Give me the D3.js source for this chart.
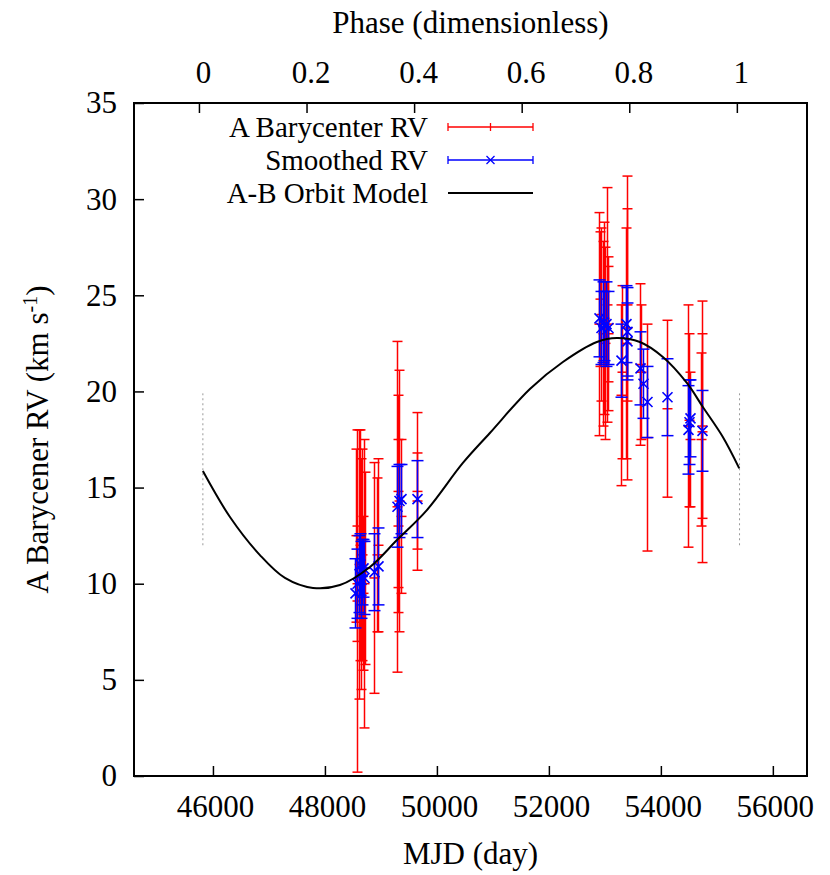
<!DOCTYPE html>
<html><head><meta charset="utf-8">
<script src="https://cdn.jsdelivr.net/npm/d3@7"></script>
<style>
body{margin:0;background:#fff;}
text{font-family:"Liberation Serif","Times New Roman",serif;fill:#000;}
</style></head><body>
<svg id="c" width="830" height="875"></svg>
<script>
// ---- data ----
const xTicks = [46000, 48000, 50000, 52000, 54000, 56000];
const yTicks = [0, 5, 10, 15, 20, 25, 30, 35];
const phaseTicks = [0, 0.2, 0.4, 0.6, 0.8, 1];
const legendLabels = ["A Barycenter RV", "Smoothed RV", "A-B Orbit Model"];

// A Barycenter RV: MJD, RV, error
const rvMJD = [48570,48600,48620,48640,48660,48700,48720,48560,48680,48580,48880,48930,48950,
  49290,49330,49350,49310,49300,49650,49640,
  52900,52930,52960,52990,53030,53060,53010,52920,53050,
  53290,53300,53390,53370,53400,53620,53650,53750,54110,
  54480,54500,54520,54730,54740,54720];
const rvVal = [9.1,11.0,12.0,10.5,11.5,10.0,10.8,12.5,9.5,10.0,10.3,11.5,12.0,
  14.0,14.3,13.5,14.8,13.0,14.8,14.3,
  23.5,24.0,23.0,23.8,24.5,23.0,22.5,24.8,23.5,
  19.8,21.0,23.3,22.5,24.5,21.4,21.0,17.6,19.1,
  18.2,18.5,17.5,17.9,18.2,17.5];
const rvErr = [8.9,7.0,6.0,6.0,5.5,7.5,5.0,4.5,4.0,3.0,6.0,4.0,4.5,
  8.6,6.8,4.0,5.0,4.5,4.1,2.5,
  5.8,4.5,4.8,5.0,6.1,4.0,5.0,3.5,3.0,
  4.7,4.5,7.9,6.0,5.0,4.2,3.5,5.9,4.6,
  6.3,4.5,3.5,6.8,4.8,4.5];

// Smoothed RV
const smMJD = [48540,48580,48600,48620,48640,48660,48680,48700,48880,48940,
  49290,49320,49350,49650,
  52900,52930,52960,52990,53020,53050,53290,53370,53390,53400,
  53620,53680,53750,54110,54480,54500,54520,54730];
const smVal = [9.5,10.0,10.5,11.0,10.2,10.6,10.8,10.3,10.6,10.9,
  14.0,14.3,14.4,14.4,
  23.8,23.3,23.6,23.4,23.5,23.3,21.6,23.5,23.1,22.6,
  21.2,20.4,19.45,19.7,18.0,18.4,18.6,17.95];
const smErr = [1.8,1.8,2.0,1.6,2.0,1.7,1.5,1.9,2.0,2.0,
  2.1,1.9,1.8,2.0,
  2.0,1.9,2.1,1.8,2.2,1.9,1.9,2.0,2.3,2.0,
  1.9,1.8,1.85,2.0,2.3,2.2,2.0,2.1];

// A-B orbit model
const modelMJD = [45820,46304,46839,47286,47786,48268,48804,49286,49821,50464,50946,51661,52250,52857,53214,53625,54036,54464,54750,55107,55400];
const modelRV  = [15.86,13.47,11.49,10.30,9.78,9.93,10.87,12.27,13.83,16.28,17.84,20.13,21.53,22.57,22.78,22.57,21.79,20.44,19.19,17.63,16.0];

// phase reference marks
const markMJD = [45820, 55405];
const markRange = [12, 19.9];
const phaseZeroMJD = 45750, phaseOneMJD = 55357;

// ---- layout ----
const L = 134, R = 807, T = 103, B = 776;
const svg = d3.select("#c");
const x = d3.scaleLinear().domain([44590, 56610]).range([L, R]);
const y = d3.scaleLinear().domain([0, 35]).range([B, T]);
const xp = d3.scaleLinear().domain([0, 1]).range([x(phaseZeroMJD), x(phaseOneMJD)]);
const FS = 31, LFS = 29;

// axes
const gx = svg.append("g").attr("transform", `translate(0,${B})`)
  .call(d3.axisBottom(x).tickValues(xTicks).tickSizeInner(-10).tickSizeOuter(0).tickPadding(19).tickFormat(d3.format("d")));
const gy = svg.append("g").attr("transform", `translate(${L},0)`)
  .call(d3.axisLeft(y).tickValues(yTicks).tickSizeInner(-10).tickSizeOuter(0).tickPadding(17));
const gt = svg.append("g").attr("transform", `translate(0,${T})`)
  .call(d3.axisTop(xp).tickValues(phaseTicks).tickSizeInner(-10).tickSizeOuter(0).tickPadding(20).tickFormat(d => d3.format("")(d)));
[gx, gy, gt].forEach(g => {
  g.select(".domain").remove();
  g.selectAll(".tick line").attr("stroke", "#000").attr("stroke-width", 1.5);
  g.selectAll(".tick text").style("font-size", FS + "px").attr("font-family", null);
});
gx.selectAll(".tick text").attr("dy", "0.71em").attr("dx", 2);
gt.selectAll(".tick text").attr("dx", 4);
svg.append("rect").attr("x", L).attr("y", T).attr("width", R - L).attr("height", B - T)
  .attr("fill", "none").attr("stroke", "#000").attr("stroke-width", 2);

// dotted phase marks
markMJD.forEach(m => {
  svg.append("line").attr("x1", x(m)).attr("x2", x(m)).attr("y1", y(markRange[0])).attr("y2", y(markRange[1]))
    .attr("stroke", "#999").attr("stroke-width", 1).attr("stroke-dasharray", "2,3");
});

const tw = 5;
// red error bars
const rv = rvMJD.map((m, i) => ({m, v: rvVal[i], e: rvErr[i]}));
const gr = svg.append("g").attr("stroke", "#ff0000").attr("stroke-width", 1.5).attr("fill", "none");
rv.forEach(d => {
  const cx = Math.round(x(d.m)) + 0.5, y0 = y(d.v - d.e), y1 = y(d.v + d.e), yc = y(d.v);
  gr.append("line").attr("x1", cx).attr("x2", cx).attr("y1", y0).attr("y2", y1);
  gr.append("line").attr("x1", cx - tw).attr("x2", cx + tw).attr("y1", y0).attr("y2", y0);
  gr.append("line").attr("x1", cx - tw).attr("x2", cx + tw).attr("y1", y1).attr("y2", y1);
  gr.append("line").attr("x1", cx - tw).attr("x2", cx + tw).attr("y1", yc).attr("y2", yc);
});

// blue smoothed
const sm = smMJD.map((m, i) => ({m, v: smVal[i], e: smErr[i]}));
const gb = svg.append("g").attr("stroke", "#0000ff").attr("fill", "none");
sm.forEach(d => {
  const cx = Math.round(x(d.m)) + 0.5, y0 = y(d.v - d.e), y1 = y(d.v + d.e), yc = y(d.v);
  gb.append("line").attr("x1", cx).attr("x2", cx).attr("y1", y0).attr("y2", y1).attr("stroke-width", 1.5);
  gb.append("line").attr("x1", cx - tw - 1).attr("x2", cx + tw + 1).attr("y1", y0).attr("y2", y0).attr("stroke-width", 1.5);
  gb.append("line").attr("x1", cx - tw - 1).attr("x2", cx + tw + 1).attr("y1", y1).attr("y2", y1).attr("stroke-width", 1.5);
  gb.append("path").attr("d", `M${cx-5},${yc-5}L${cx+5},${yc+5}M${cx-5},${yc+5}L${cx+5},${yc-5}`).attr("stroke-width", 1.6);
});

// model curve
const line = d3.line().x(d => x(d[0])).y(d => y(d[1])).curve(d3.curveCatmullRom.alpha(0.5));
svg.append("path").datum(modelMJD.map((m, i) => [m, modelRV[i]]))
  .attr("d", line).attr("fill", "none").attr("stroke", "#000").attr("stroke-width", 2);

// legend
const lx0 = 448, lx1 = 533, lxm = (lx0 + lx1) / 2, ly = [127, 160, 193];
const lg = svg.append("g");
legendLabels.forEach((t, i) => {
  lg.append("text").attr("x", 428).attr("y", ly[i]).attr("dy", "0.34em").attr("text-anchor", "end")
    .style("font-size", LFS + "px").text(t);
});
const lr = lg.append("g").attr("stroke", "#ff0000").attr("stroke-width", 1.3);
lr.append("line").attr("x1", lx0).attr("x2", lx1).attr("y1", ly[0]).attr("y2", ly[0]);
[lx0, lxm, lx1].forEach(xx => lr.append("line").attr("x1", xx).attr("x2", xx).attr("y1", ly[0] - 4).attr("y2", ly[0] + 4));
const lb = lg.append("g").attr("stroke", "#0000ff").attr("stroke-width", 1.3);
lb.append("line").attr("x1", lx0).attr("x2", lx1).attr("y1", ly[1]).attr("y2", ly[1]);
[lx0, lx1].forEach(xx => lb.append("line").attr("x1", xx).attr("x2", xx).attr("y1", ly[1] - 4).attr("y2", ly[1] + 4));
lb.append("path").attr("d", `M${lxm-4},${ly[1]-4}L${lxm+4},${ly[1]+4}M${lxm-4},${ly[1]+4}L${lxm+4},${ly[1]-4}`);
lg.append("line").attr("x1", lx0).attr("x2", lx1).attr("y1", ly[2]).attr("y2", ly[2]).attr("stroke", "#000").attr("stroke-width", 2);

// axis titles
svg.append("text").attr("x", (L + R) / 2).attr("y", 864).attr("text-anchor", "middle")
  .style("font-size", FS + "px").text("MJD (day)");
svg.append("text").attr("x", (L + R) / 2).attr("y", 33).attr("text-anchor", "middle")
  .style("font-size", FS + "px").text("Phase (dimensionless)");
const yl = svg.append("text").attr("transform", `translate(48,${(T + B) / 2}) rotate(-90)`)
  .attr("text-anchor", "middle").style("font-size", FS + "px");
yl.append("tspan").text("A Barycener RV (km s");
yl.append("tspan").attr("dy", -11).style("font-size", "20px").text("-1");
yl.append("tspan").attr("dy", 11).text(")");
</script>
</body></html>
